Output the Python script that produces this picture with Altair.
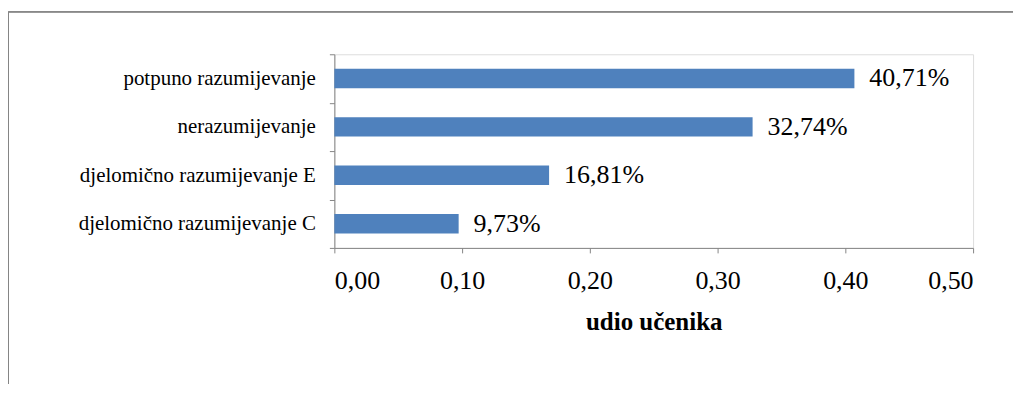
import altair as alt
import pandas as pd

categories = ["potpuno razumijevanje", "nerazumijevanje ", "djelomično razumijevanje E", "djelomično razumijevanje C"]
values = [0.4071, 0.3274, 0.1681, 0.0973]
labels = ["40,71%", "32,74%", "16,81%", "9,73%"]
x_ticks = [0.0, 0.1, 0.2, 0.3, 0.4, 0.5]

df = pd.DataFrame({"cat": categories, "val": values, "lab": labels})

FONT = "'Liberation Serif', 'Times New Roman', Times, serif"
AXIS_COLOR = "#868686"

y_enc = alt.Y(
    "cat:N",
    sort=categories,
    title=None,
    scale=alt.Scale(paddingInner=0, paddingOuter=0),
    axis=alt.Axis(
        labelFont=FONT, labelFontSize=21, labelColor="black",
        labelPadding=14, tickSize=5, tickColor=AXIS_COLOR,
        domainColor=AXIS_COLOR, tickBand="extent", labelLimit=400,
    ),
)

x_enc = alt.X(
    "val:Q",
    title="udio učenika",
    scale=alt.Scale(domain=[0, 0.5], nice=False),
    axis=alt.Axis(
        values=x_ticks,
        labelExpr="replace(format(datum.value, '.2f'), '.', ',')",
        labelFont=FONT, labelFontSize=26, labelColor="black",
        labelPadding=15, tickSize=5, tickColor=AXIS_COLOR,
        domainColor=AXIS_COLOR, grid=False,
        titleFont=FONT, titleFontSize=25, titleFontWeight="bold",
        titleColor="black", titlePadding=16,
    ),
)

top_line = alt.Chart(df).mark_rule(stroke=AXIS_COLOR, strokeWidth=1, clip=False).encode(
    x=alt.value(-326.5), x2=alt.value(680), y=alt.value(-42.5)
)
left_line = alt.Chart(df).mark_rule(stroke=AXIS_COLOR, strokeWidth=1, clip=False).encode(
    x=alt.value(-326.5), y=alt.value(-42.5), y2=alt.value(340)
)

bars = alt.Chart(df).mark_bar(color="#4F81BD", height=alt.RelativeBandSize(band=0.4)).encode(x=x_enc, y=y_enc)

text = alt.Chart(df).mark_text(
    align="left", baseline="middle", dx=15, font=FONT, fontSize=26, color="black"
).encode(x="val:Q", y=alt.Y("cat:N", sort=categories), text="lab:N")

chart = alt.layer(top_line, left_line, bars, text).properties(
    width=640, height=194,
    autosize=alt.AutoSizeParams(type="none"),
    padding={"left": 327, "top": 46, "right": 40, "bottom": 136},
).configure_view(stroke=None).configure(background="white")

chart.save("out.html", embed_options={"renderer": "svg", "actions": False})
